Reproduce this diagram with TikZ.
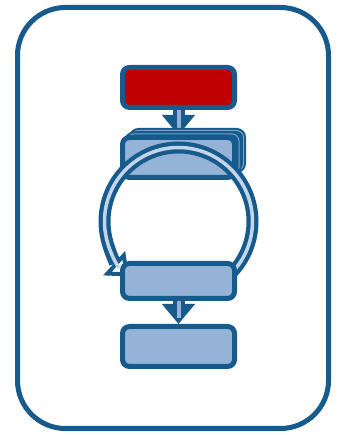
\documentclass[tikz,border=0pt]{standalone}
\usetikzlibrary{arrows.meta,positioning,backgrounds}
\definecolor{dkblue}{HTML}{175A8C}
\definecolor{ltblue}{HTML}{95B3D7}
\definecolor{paleblue}{HTML}{C3D5EA}
\definecolor{alarm}{HTML}{C00000}
\tikzset{
  stepbox/.style={draw=dkblue, line width=5pt, fill=ltblue, rounded corners=7pt,
                  minimum width=112pt, minimum height=40pt, inner sep=0pt},
  redbox/.style={stepbox, fill=alarm},
  layerbox/.style={stepbox, fill=dkblue, line width=2pt,
                   double=ltblue!80!dkblue, double distance=1pt},
  fatarr/.style={draw=dkblue, line width=12pt, -{Triangle[width=32pt, length=20pt]},
                 postaction={draw=ltblue, line width=4pt, -, shorten >=6pt}},
  looparr/.style={draw=dkblue, line width=12pt,
                  -{Triangle[width=32pt, length=20pt, fill=white, line width=4pt]},
                  postaction={draw=paleblue, line width=3.5pt, -, shorten >=13pt}}}
\begin{document}
\begin{tikzpicture}[x=1pt, y=1pt]
  \useasboundingbox (0,0) rectangle (341,435);
  \draw[dkblue, line width=5pt, rounded corners=48pt] (17.5,6.5) rectangle (328.5,427.5);
  \node[redbox] (top) at (178.5,347.5) {};
  \node[stepbox, below=25pt of top] (loopbox) {};
  \begin{scope}[on background layer]
    \draw[fatarr] (top) -- (loopbox);
    \node[layerbox] (layer2) at ([shift={(9pt,7pt)}]loopbox.center) {};
    \node[layerbox] (layer1) at ([shift={(4.5pt,3.5pt)}]loopbox.center) {};
  \end{scope}
  % loop back round the repeated step
  \coordinate[below=64pt of loopbox.center] (ring);
  \draw[looparr] ([shift={(-50:74pt)}]ring) arc[start angle=-50, end angle=228, radius=74pt];
  \node[stepbox, minimum height=35pt, below=81pt of loopbox] (exit) {};
  \node[stepbox, below=23pt of exit] (done) {};
  \draw[fatarr] (exit) -- (done);
\end{tikzpicture}
\end{document}
